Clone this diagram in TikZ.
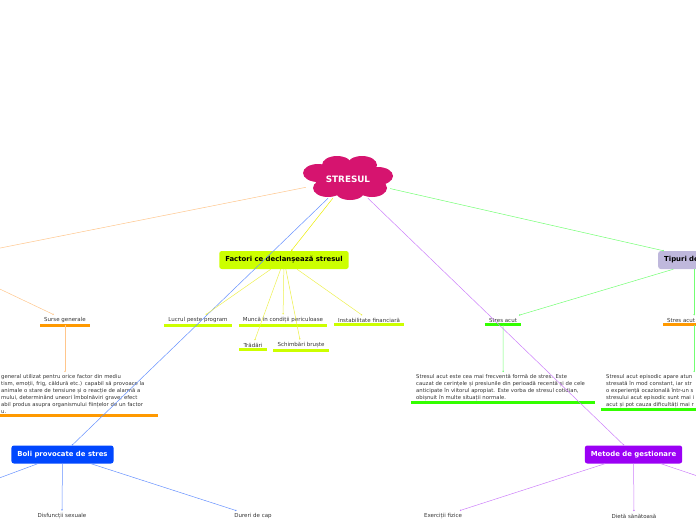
\documentclass[tikz,border=0pt]{standalone}
\usepackage{fontspec}
\setmainfont{DejaVu Sans}
\usetikzlibrary{arrows.meta, calc}
\definecolor{stmagenta}{HTML}{D6146F}
\definecolor{stlime}{HTML}{CCFF00}
\definecolor{stblue}{HTML}{0047FF}
\definecolor{stviolet}{HTML}{9B00F5}
\definecolor{stlav}{HTML}{BFB8DC}
\definecolor{storange}{HTML}{FF9900}
\definecolor{stgreen}{HTML}{33FF00}
\definecolor{stink}{HTML}{333333}

\begin{document}
\begin{tikzpicture}[
  x=1pt, y=-1pt,
  topic/.style={rounded corners=2.5pt, minimum height=18pt, inner xsep=6pt, font=\fontsize{6.9}{8}\selectfont\bfseries},
  sub/.style={font=\fontsize{5.5}{6.5}\selectfont, text=stink, inner xsep=4pt, inner ysep=2.5pt},
  para/.style={font=\fontsize{5.3}{7}\selectfont, text=stink, text width=174pt, align=left, inner xsep=5pt, inner ysep=2pt, anchor=north west},
  bar/.style={line width=3pt, draw=#1},
  link/.style={-{Circle[length=1.4pt]}, line width=0.5pt, draw=#1}
]
  \useasboundingbox (0,0) rectangle (696,520);

  % central cloud, built from puffs
  \fill[stmagenta] (348,178) ellipse [x radius=34pt, y radius=14pt];
  \foreach \cx/\cy in {337/165, 362/165, 318/173, 378/176, 328/188, 350/191, 372/188}
    \fill[stmagenta] (\cx,\cy) ellipse [x radius=15pt, y radius=9pt];
  \node[minimum width=84pt, minimum height=38pt, text=white, font=\fontsize{8.8}{10}\selectfont\bfseries] (stres) at (348,179) {STRESUL};

  \node[topic, fill=stlime] (factori) at (284,260) {Factori ce declanșează stresul};
  \node[topic, fill=stblue, text=white] (boli) at (62.5,454.5) {Boli provocate de stres};
  \node[topic, fill=stviolet, text=white] (metode) at (633.5,454.5) {Metode de gestionare};
  \node[topic, fill=stlav, anchor=west, text width=80pt, align=left] (tipuri) at (658,260) {Tipuri de};

  % branches leaving the page on the left and right
  \coordinate (offL) at (-40,256);
  \coordinate (offLb) at (-36,272);
  \coordinate (offB) at (-60,500);
  \coordinate (offM) at (760,497);
  \coordinate (offD) at (634,540);

  % factori
  \node[sub] (lucru) at (198,320) {Lucrul peste program};
  \node[sub] (munca) at (283,320) {Muncă în condiții periculoase};
  \node[sub] (instab) at (369,320) {Instabilitate financiară};
  \node[sub] (tradari) at (253,345) {Trădări};
  \node[sub] (schimb) at (301,345) {Schimbări bruște};

  % surse
  \node[sub] (surse) at (65,320) {Surse generale};
  \node[para, text width=152pt] (parL) at (-4,372) {general utilizat pentru orice factor din mediu\\
    tism, emoții, frig, căldură etc.) capabil să provoace la\\
    animale o stare de tensiune și o reacție de alarmă a\\
    mului, determinând uneori îmbolnăviri grave; efect\\
    abil produs asupra organismului ființelor de un factor\\
    u.};

  % tipuri
  \node[sub] (stresA) at (503,320) {Stres acut};
  \node[sub, anchor=west, text width=54pt, align=left] (stresB) at (663,320) {Stres acut};
  \node[para] (parA) at (411,372) {Stresul acut este cea mai frecventă formă de stres. Este\\
    cauzat de cerințele și presiunile din perioadă recentă și de cele\\
    anticipate în viitorul apropiat. Este vorba de stresul cotidian,\\
    obișnuit în multe situații normale.};
  \node[para] (parB) at (601,372) {Stresul acut episodic apare atun\\
    stresată în mod constant, iar str\\
    o experiență ocazională într-un s\\
    stresului acut episodic sunt mai i\\
    acut și pot cauza dificultăți mai r};

  % boli, metode
  \node[sub] (disf) at (62,516) {Disfuncții sexuale};
  \node[sub] (dureri) at (253,516) {Dureri de cap};
  \node[sub] (exerc) at (443,516) {Exerciții fizice};
  \node[sub] (dieta) at (634,516) {Dietă sănătoasă};

  \draw[bar=stlime] (lucru.south west) -- (lucru.south east);
  \draw[bar=stlime] (munca.south west) -- (munca.south east);
  \draw[bar=stlime] (instab.south west) -- (instab.south east);
  \draw[bar=stlime] (tradari.south west) -- (tradari.south east);
  \draw[bar=stlime] (schimb.south west) -- (schimb.south east);
  \draw[bar=storange] (surse.south west) -- (surse.south east);
  \draw[bar=storange] (parL.south west) -- (parL.south east);
  \draw[bar=stgreen] (stresA.south west) -- (stresA.south east);
  \draw[bar=storange] (stresB.south west) -- (stresB.south east);
  \draw[bar=stgreen] (parA.south west) -- (parA.south east);
  \draw[bar=stgreen] (parB.south west) -- (parB.south east);

  \draw[link=orange!45] (stres) -- (offL);
  \draw[link=stblue!60] (stres) -- (boli);
  \draw[link=yellow!70!lime] (stres) -- (factori);
  \draw[link=stviolet!50] (stres) -- (metode);
  \draw[link=green!55] (stres) -- (tipuri);

  \draw[link=yellow!60!lime!70] (factori) -- (lucru);
  \draw[link=yellow!60!lime!70] (factori) -- (munca);
  \draw[link=yellow!60!lime!70] (factori) -- (instab);
  \draw[link=yellow!60!lime!70] (factori) -- (tradari);
  \draw[link=yellow!60!lime!70] (factori) -- (schimb);

  \draw[link=orange!45] (offLb) -- (surse);
  \draw[link=orange!45] (surse) -- (surse |- parL.north);

  \draw[link=green!55] (tipuri) -- (stresA);
  \draw[link=green!55] (tipuri.south -| stresB) -- (stresB);
  \draw[link=green!55] (stresA) -- (parA);
  \draw[link=green!55] (stresB) -- (stresB |- parB.north);

  \draw[link=stblue!60] (boli) -- (offB);
  \draw[link=stblue!60] (boli) -- (disf);
  \draw[link=stblue!60] (boli) -- (dureri);

  \draw[link=stviolet!50] (metode) -- (exerc);
  \draw[link=stviolet!50] (metode) -- (dieta);
  \draw[link=stviolet!50] (metode) -- (offM);
  \draw[link=stviolet!50] (dieta) -- (offD);
\end{tikzpicture}
\end{document}
